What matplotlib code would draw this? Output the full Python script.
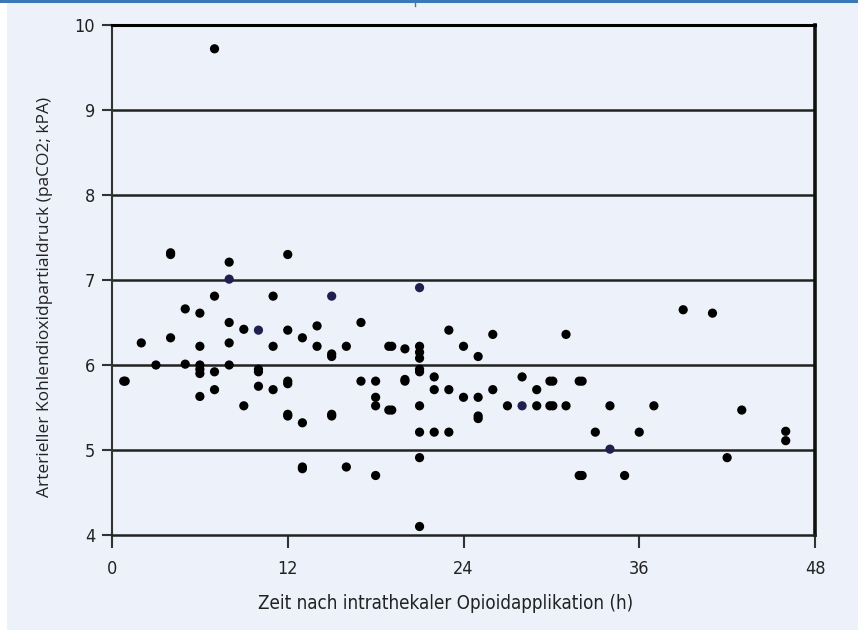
import matplotlib
matplotlib.use("Agg")
import matplotlib.pyplot as plt
from matplotlib.lines import Line2D
from matplotlib.patches import Rectangle

# Data (time in h, paCO2 in kPA)
zeit = [0.8, 0.9, 2, 3, 4, 4, 4, 5, 5,
        6, 6, 6, 6, 6, 6, 7, 7, 7, 7,
        8, 8, 8, 8, 9, 9, 10, 10, 10,
        11, 11, 11, 12, 12, 12, 12, 12, 12,
        13, 13, 13, 13, 14, 14, 15, 15, 15, 15,
        16, 16, 17, 17, 18, 18, 18, 18,
        18.9, 19.1, 18.9, 19.1, 20, 20, 20,
        21, 21, 21, 21, 21, 21, 21, 21, 21,
        22, 22, 22, 23, 23, 23, 24, 24,
        25, 25, 25, 25, 26, 26, 27, 28, 29, 29,
        29.9, 30.1, 29.9, 30.1, 31, 31, 31.9, 32.1, 31.9, 32.1,
        33, 34, 35, 36, 37, 39, 41, 42, 43, 46, 46]
paco2 = [5.81, 5.81, 6.26, 6.0, 7.3, 7.32, 6.32, 6.66, 6.01,
         6.61, 6.22, 6.0, 5.95, 5.9, 5.63, 9.72, 6.81, 5.92, 5.71,
         7.21, 6.50, 6.26, 6.0, 6.42, 5.52, 5.92, 5.95, 5.75,
         6.81, 6.22, 5.71, 7.3, 6.41, 5.81, 5.78, 5.42, 5.40,
         6.32, 5.32, 4.80, 4.78, 6.46, 6.22, 6.10, 6.13, 5.42, 5.40,
         6.22, 4.80, 6.50, 5.81, 5.81, 5.62, 5.52, 4.70,
         6.22, 6.22, 5.47, 5.47, 6.19, 5.81, 5.83,
         6.22, 6.15, 6.08, 5.92, 5.95, 5.52, 5.21, 4.91, 4.10,
         5.86, 5.71, 5.21, 6.41, 5.71, 5.21, 6.22, 5.62,
         6.10, 5.62, 5.37, 5.40, 6.36, 5.71, 5.52, 5.86, 5.71, 5.52,
         5.81, 5.81, 5.52, 5.52, 6.36, 5.52, 5.81, 5.81, 4.70, 4.70,
         5.21, 5.52, 4.70, 5.21, 5.52, 6.65, 6.61, 4.91, 5.47, 5.22, 5.11]

# the few dark blue points
zeit_blau = [8, 10, 15, 21, 28, 34]
paco2_blau = [7.01, 6.41, 6.81, 6.91, 5.52, 5.01]

x_ticks = [0, 12, 24, 36, 48]
y_ticks = [4, 5, 6, 7, 8, 9, 10]

bg = '#edf1f9'

fig = plt.figure(figsize=(8.58, 6.3), dpi=100)
fig.patch.set_facecolor('white')
fig.add_artist(Rectangle((7 / 858, 0), 1, 1, transform=fig.transFigure,
                         facecolor=bg, edgecolor='none', zorder=-10))
fig.add_artist(Line2D([0, 1], [0.998, 0.998], transform=fig.transFigure,
                      color='#3b78b8', lw=2.2))
fig.add_artist(Line2D([0.4837, 0.4837], [0.998, 0.99], transform=fig.transFigure,
                      color='#3b78b8', lw=1))

ax = fig.add_axes([112 / 858, 1 - 535 / 630, 703 / 858, 510 / 630])
ax.set_facecolor(bg)

ax.scatter(zeit, paco2, s=44, color='black', edgecolors='none', zorder=3)
ax.scatter(zeit_blau, paco2_blau, s=44, color='#20204f', edgecolors='none', zorder=3)

ax.set_xlim(0, 48)
ax.set_ylim(4, 10)
ax.set_xticks(x_ticks)
ax.set_yticks(y_ticks)

for y in y_ticks[1:-1]:
    ax.axhline(y, color='#222222', lw=1.8, zorder=1)

ax.spines['left'].set_linewidth(1.5)
ax.spines['left'].set_color('#333333')
ax.spines['top'].set_linewidth(2.2)
ax.spines['top'].set_color('black')
ax.spines['right'].set_linewidth(2.6)
ax.spines['right'].set_color('#111111')
ax.spines['bottom'].set_linewidth(1.8)
ax.spines['bottom'].set_color('#222222')

ax.tick_params(axis='x', direction='out', length=9, width=1.5, color='#333333',
               pad=9, labelsize=13, labelcolor='#222222')
ax.tick_params(axis='y', direction='out', length=7, width=1.5, color='#333333',
               pad=5, labelsize=13, labelcolor='#222222')
for lab in ax.get_xticklabels() + ax.get_yticklabels():
    lab.set_family('DejaVu Sans')
    lab.set_stretch('condensed')

ax.set_xlabel('Zeit nach intrathekaler Opioidapplikation (h)', family='DejaVu Sans',
              fontstretch='condensed', fontsize=13.5, color='#222222')
ax.xaxis.set_label_coords(0.475, -0.115)
ax.set_ylabel('Arterieller Kohlendioxidpartialdruck (paCO2; kPA)',
              family=['Open Sans', 'DejaVu Sans'], fontsize=12.5, color='#222222')
ax.yaxis.set_label_coords(-0.084, 0.467)

plt.savefig('out.png', dpi=100, facecolor=fig.get_facecolor())
